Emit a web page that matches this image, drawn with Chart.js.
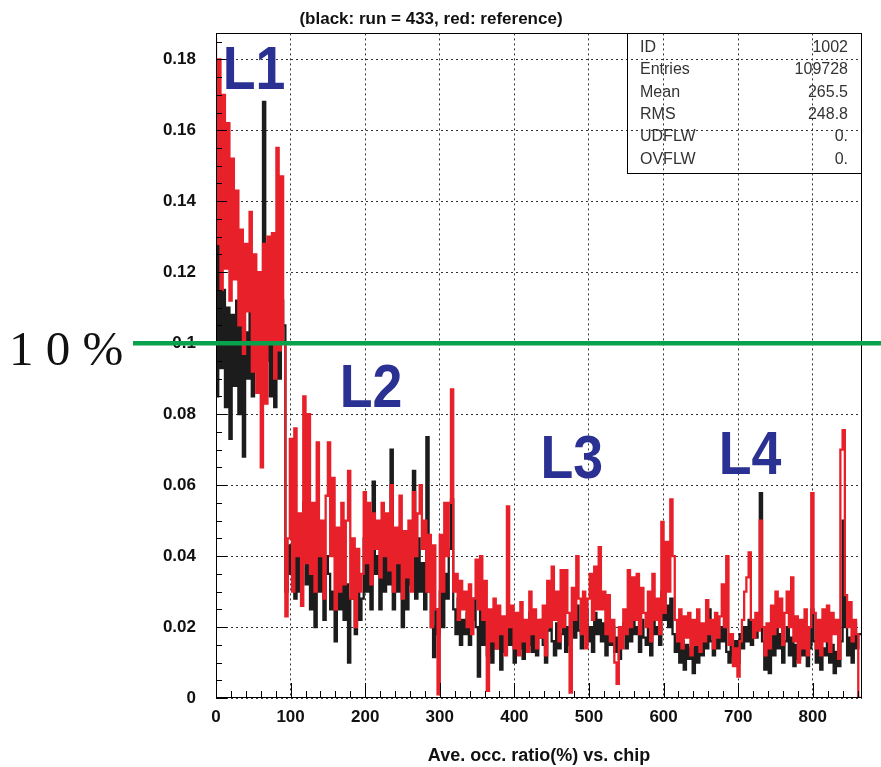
<!DOCTYPE html>
<html>
<head>
<meta charset="utf-8">
<script src="https://cdn.jsdelivr.net/npm/chart.js"></script>
<style>
  body { margin: 0; background: #fff; }
  canvas { display: block; }
</style>
</head>
<body>
<canvas id="chart" width="881" height="767"></canvas>
<script>
// one value per 3-chip bin
const binWidth = 3;
const chipTicks = [0, 100, 200, 300, 400, 500, 600, 700, 800];
const ratioTicks = [0, 0.02, 0.04, 0.06, 0.08, 0.1, 0.12, 0.14, 0.16, 0.18];

// red: reference
const refRatio = [
  0.186, 0.128, 0.180, 0.115, 0.170, 0.121, 0.162, 0.112, 0.152, 0.118,
  0.143, 0.105, 0.132, 0.097, 0.128, 0.109, 0.137, 0.092, 0.125, 0.086,
  0.120, 0.065, 0.128, 0.083, 0.130, 0.100, 0.131, 0.090, 0.155, 0.098,
  0.147, 0.100, 0.023,
  0.045, 0.073, 0.030, 0.076, 0.040, 0.052, 0.026, 0.085, 0.038, 0.080,
  0.035, 0.055, 0.030, 0.072, 0.040, 0.050, 0.028, 0.057, 0.072, 0.040,
  0.062, 0.025, 0.048, 0.030, 0.055, 0.032, 0.050, 0.064, 0.028, 0.045,
  0.020, 0.042, 0.030, 0.035, 0.058, 0.038, 0.055, 0.032, 0.052, 0.042,
  0.050, 0.034, 0.055, 0.040, 0.052, 0.036, 0.060, 0.030, 0.048, 0.038,
  0.057, 0.028, 0.047, 0.034, 0.050, 0.030, 0.058, 0.040, 0.052, 0.060,
  0.042, 0.050, 0.030, 0.046, 0.020, 0.043, 0.025, 0.001, 0.046, 0.030,
  0.055, 0.040, 0.055, 0.087, 0.030, 0.035, 0.022, 0.033, 0.025, 0.030,
  0.020, 0.032, 0.018, 0.028, 0.039, 0.025, 0.040, 0.022, 0.033, 0.002,
  0.025, 0.016, 0.028, 0.014, 0.026, 0.018, 0.023, 0.012, 0.054, 0.020,
  0.026, 0.014, 0.024, 0.012, 0.027, 0.016, 0.022, 0.013, 0.030, 0.018,
  0.025, 0.014, 0.022, 0.017, 0.026, 0.012, 0.033, 0.020, 0.037, 0.022,
  0.030, 0.016, 0.036, 0.020, 0.036, 0.024, 0.0015, 0.031, 0.022, 0.040,
  0.028, 0.018, 0.030, 0.014, 0.028, 0.035, 0.022, 0.037, 0.025, 0.0425,
  0.025, 0.030, 0.018, 0.029, 0.016, 0.022, 0.010, 0.004, 0.020, 0.014,
  0.025, 0.018, 0.036, 0.020, 0.034, 0.022, 0.035, 0.018, 0.031, 0.024,
  0.020, 0.030, 0.016, 0.035, 0.022, 0.028, 0.018, 0.0496, 0.024, 0.044,
  0.030, 0.056, 0.040, 0.022, 0.016, 0.025, 0.014, 0.023, 0.017, 0.024,
  0.012, 0.022, 0.015, 0.025, 0.013, 0.021, 0.016, 0.0276, 0.018, 0.022,
  0.014, 0.024, 0.017, 0.023, 0.032, 0.020, 0.040, 0.015, 0.018, 0.009,
  0.014, 0.006, 0.016, 0.022, 0.030, 0.034, 0.041, 0.022, 0.017, 0.024,
  0.019, 0.050, 0.020, 0.012, 0.021, 0.014, 0.026, 0.018, 0.030, 0.020,
  0.028, 0.015, 0.024, 0.030, 0.020, 0.034, 0.016, 0.023, 0.010, 0.022,
  0.014, 0.025, 0.012, 0.020, 0.0577, 0.024, 0.014, 0.022, 0.012, 0.025,
  0.016, 0.026, 0.013, 0.024, 0.018, 0.022, 0.011, 0.070, 0.0755, 0.029,
  0.020, 0.027, 0.016, 0.022, 0.018, 0.000
];

// black: run = 433
const runRatio = [
  0.148, 0.085, 0.128, 0.093, 0.115, 0.082, 0.110, 0.073, 0.108, 0.088,
  0.112, 0.080, 0.105, 0.068, 0.103, 0.090, 0.112, 0.085, 0.108, 0.092,
  0.115, 0.088, 0.168, 0.095, 0.113, 0.085, 0.108, 0.082, 0.110, 0.090,
  0.112, 0.105, 0.030,
  0.043, 0.035, 0.045, 0.028, 0.042, 0.030, 0.040, 0.055, 0.032, 0.045,
  0.025, 0.038, 0.020, 0.042, 0.030, 0.045, 0.022, 0.040, 0.035, 0.025,
  0.030, 0.016, 0.036, 0.025, 0.040, 0.022, 0.032, 0.010, 0.028, 0.035,
  0.018, 0.030, 0.022, 0.028, 0.045, 0.030, 0.040, 0.025, 0.061, 0.035,
  0.040, 0.025, 0.042, 0.030, 0.045, 0.032, 0.070, 0.025, 0.040, 0.030,
  0.045, 0.020, 0.040, 0.025, 0.042, 0.032, 0.064, 0.028, 0.045, 0.030,
  0.038, 0.025, 0.0735, 0.030, 0.020, 0.0115, 0.025, 0.018, 0.030, 0.020,
  0.035, 0.028, 0.042, 0.056, 0.025, 0.018, 0.028, 0.015, 0.022, 0.018,
  0.024, 0.015, 0.022, 0.028, 0.020, 0.006, 0.025, 0.015, 0.022, 0.012,
  0.020, 0.010, 0.022, 0.014, 0.019, 0.008, 0.020, 0.013, 0.022, 0.015,
  0.020, 0.010, 0.018, 0.014, 0.022, 0.011, 0.019, 0.015, 0.024, 0.013,
  0.020, 0.012, 0.017, 0.022, 0.015, 0.010, 0.019, 0.023, 0.016, 0.012,
  0.021, 0.014, 0.018, 0.024, 0.013, 0.020, 0.015, 0.022, 0.017, 0.026,
  0.019, 0.014, 0.022, 0.025, 0.016, 0.020, 0.013, 0.024, 0.018, 0.022,
  0.016, 0.021, 0.012, 0.018, 0.015, 0.020, 0.013, 0.017, 0.011, 0.019,
  0.021, 0.014, 0.023, 0.016, 0.025, 0.018, 0.020, 0.013, 0.022, 0.017,
  0.015, 0.021, 0.012, 0.024, 0.018, 0.020, 0.015, 0.030, 0.022, 0.026,
  0.020, 0.028, 0.018, 0.013, 0.017, 0.010, 0.016, 0.008, 0.015, 0.011,
  0.014, 0.007, 0.016, 0.010, 0.018, 0.012, 0.020, 0.014, 0.025, 0.016,
  0.012, 0.018, 0.014, 0.020, 0.016, 0.022, 0.013, 0.010, 0.015, 0.012,
  0.016, 0.010, 0.018, 0.014, 0.020, 0.016, 0.022, 0.015, 0.019, 0.017,
  0.020, 0.0577, 0.016, 0.008, 0.015, 0.007, 0.018, 0.012, 0.020, 0.014,
  0.018, 0.010, 0.016, 0.020, 0.012, 0.017, 0.009, 0.015, 0.011, 0.016,
  0.012, 0.017, 0.009, 0.014, 0.025, 0.016, 0.010, 0.015, 0.008, 0.014,
  0.012, 0.018, 0.010, 0.015, 0.007, 0.013, 0.009, 0.016, 0.050, 0.020,
  0.012, 0.017, 0.010, 0.021, 0.014, 0.018
];

const statsLabels = ['ID', 'Entries', 'Mean', 'RMS', 'UDFLW', 'OVFLW'];
const statsValues = ['1002', '109728', '265.5', '248.8', '0.', '0.'];

// layer labels, placed in axis units (chip, ratio at baseline)
const layerLabels = [
  { text: 'L1', chip: 9, ratio: 0.1715 },
  { text: 'L2', chip: 166, ratio: 0.0820 },
  { text: 'L3', chip: 435, ratio: 0.0620 },
  { text: 'L4', chip: 674, ratio: 0.0632 }
];
const thresholdRatio = 0.1;

const FONT = "'Liberation Sans', Arial, Helvetica, sans-serif";

function toSteps(vals) {
  const pts = vals.map((v, i) => ({ x: i * binWidth, y: v }));
  pts.push({ x: vals.length * binWidth, y: vals[vals.length - 1] });
  return pts;
}

function fmtRatio(v) {
  return String(Number(v.toFixed(3)));
}

// ROOT style: inward ticks, frame, stats box, annotations
const decorations = {
  id: 'decorations',
  afterDraw(chart) {
    const { ctx, chartArea: a, scales: { x, y } } = chart;
    ctx.save();

    // frame
    ctx.strokeStyle = '#000';
    ctx.lineWidth = 1;
    ctx.strokeRect(Math.round(a.left) + 0.5, Math.round(a.top) + 0.5,
      Math.round(a.width) - 1, Math.round(a.height) - 1);

    // y ticks, 4 subdivisions per major
    ctx.beginPath();
    for (let k = 0; k * 0.005 <= y.max + 1e-9; k++) {
      const py = Math.round(y.getPixelForValue(k * 0.005)) + 0.5;
      const len = k % 4 === 0 ? 11 : 6;
      ctx.moveTo(a.left, py);
      ctx.lineTo(a.left + len, py);
    }
    // x ticks, 5 subdivisions per major
    for (let k = 0; k * 20 <= x.max; k++) {
      const px = Math.round(x.getPixelForValue(k * 20)) + 0.5;
      const len = k % 5 === 0 ? 15 : 7;
      ctx.moveTo(px, a.bottom);
      ctx.lineTo(px, a.bottom - len);
    }
    ctx.stroke();

    // stats box
    const bw = 235, bh = 140;
    const bx = Math.round(a.right) - bw, by = Math.round(a.top);
    ctx.strokeRect(bx + 0.5, by + 0.5, bw - 1, bh);
    ctx.fillStyle = '#333';
    ctx.font = '16px ' + FONT;
    ctx.textBaseline = 'alphabetic';
    statsLabels.forEach((lab, i) => {
      const ty = by + 19 + i * 22.3;
      ctx.textAlign = 'left';
      ctx.fillText(lab, bx + 13, ty);
      ctx.textAlign = 'right';
      ctx.fillText(statsValues[i], bx + bw - 14, ty);
    });

    // layer labels
    ctx.fillStyle = '#2b3193';
    ctx.font = 'bold 61px ' + FONT;
    ctx.textAlign = 'left';
    layerLabels.forEach(l => {
      ctx.save();
      ctx.translate(x.getPixelForValue(l.chip), y.getPixelForValue(l.ratio));
      ctx.scale(0.88, 1);
      ctx.fillText(l.text, 0, 0);
      ctx.restore();
    });

    // 10 % threshold line
    const gy = y.getPixelForValue(thresholdRatio);
    ctx.strokeStyle = '#0aa14c';
    ctx.lineWidth = 4.5;
    ctx.beginPath();
    ctx.moveTo(133, gy);
    ctx.lineTo(chart.width, gy);
    ctx.stroke();
    ctx.fillStyle = '#111';
    ctx.font = "49px 'Liberation Serif', 'Times New Roman', serif";
    ctx.fillText('1 0 %', 9, gy + 22);

    ctx.restore();
  }
};

new Chart(document.getElementById('chart'), {
  type: 'line',
  data: {
    datasets: [
      {
        label: 'reference',
        data: toSteps(refRatio),
        borderColor: '#e8202a',
        borderWidth: 2.3,
        stepped: 'after',
        pointRadius: 0,
        order: 0,
        clip: 0
      },
      {
        label: 'run = 433',
        data: toSteps(runRatio),
        borderColor: '#1c1c1c',
        borderWidth: 2.3,
        stepped: 'after',
        pointRadius: 0,
        order: 1,
        clip: 0
      }
    ]
  },
  options: {
    responsive: false,
    devicePixelRatio: 1,
    animation: false,
    layout: { padding: { left: 0, right: 19, top: 0, bottom: 0 } },
    plugins: {
      legend: { display: false },
      tooltip: { enabled: false },
      title: {
        display: true,
        text: '(black: run = 433, red: reference)',
        color: '#111',
        font: { family: FONT, size: 17, weight: 'bold' },
        padding: { top: 9, bottom: 4 }
      }
    },
    scales: {
      x: {
        type: 'linear',
        min: 0,
        max: 866,
        afterBuildTicks: s => { s.ticks = chipTicks.map(v => ({ value: v })); },
        afterFit: s => { s.height = 69; },
        ticks: {
          color: '#111',
          font: { family: FONT, size: 17, weight: 'bold' },
          padding: 9,
          maxRotation: 0,
          autoSkip: false
        },
        grid: { color: '#333', lineWidth: 1, drawTicks: false },
        border: { display: false, dash: [2, 3] },
        title: {
          display: true,
          text: 'Ave. occ. ratio(%) vs. chip',
          color: '#111',
          font: { family: FONT, size: 18, weight: 'bold' },
          padding: { top: 0, bottom: 0 }
        }
      },
      y: {
        min: 0,
        max: 0.1873,
        afterBuildTicks: s => { s.ticks = ratioTicks.map(v => ({ value: v })); },
        afterFit: s => { s.width = 216; },
        ticks: {
          color: '#111',
          font: { family: FONT, size: 17, weight: 'bold' },
          padding: 20,
          callback: v => fmtRatio(v)
        },
        grid: { color: '#333', lineWidth: 1, drawTicks: false },
        border: { display: false, dash: [2, 3] }
      }
    }
  },
  plugins: [decorations]
});
</script>
</body>
</html>
